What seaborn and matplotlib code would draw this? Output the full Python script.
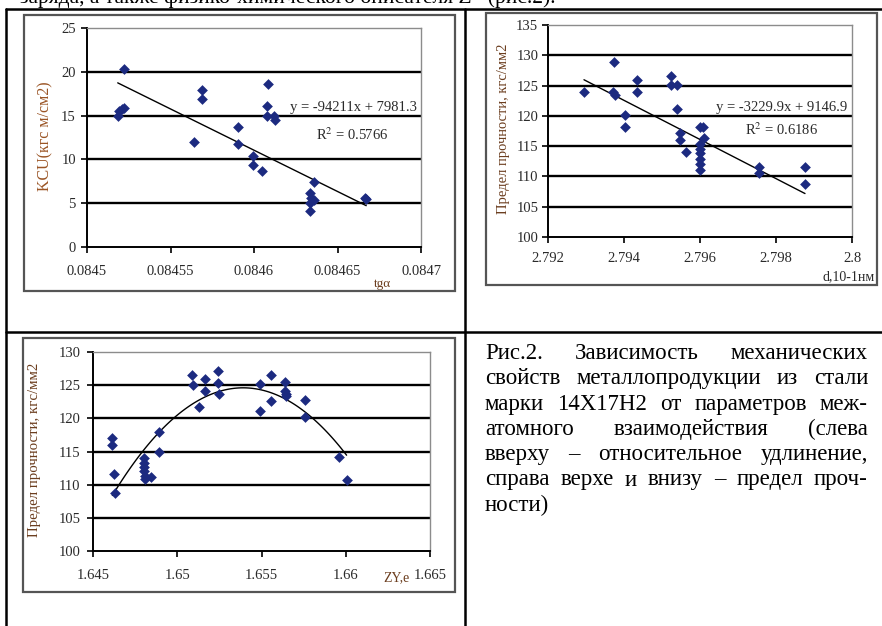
import numpy as np
import pandas as pd
import matplotlib
matplotlib.use("Agg")
import matplotlib.pyplot as plt
import seaborn as sns
from matplotlib.patches import Rectangle
from matplotlib.lines import Line2D

# ---------------- data ----------------
# Chart 1: KCU vs tg(alpha)
tga = [0.0845184, 0.0845190, 0.0845210, 0.0845224, 0.0845224,
       0.0845640, 0.0845690, 0.0845688,
       0.0845904, 0.0845902,
       0.0845994, 0.0845994, 0.0846046,
       0.0846086, 0.0846080, 0.0846080, 0.0846122, 0.0846124,
       0.0846357, 0.0846337, 0.0846341, 0.0846357, 0.0846337, 0.0846337,
       0.0846663, 0.0846672]
kcu = [15.0, 15.5, 15.75, 15.9, 20.36,
       11.95, 17.9, 16.9,
       13.66, 11.76,
       10.43, 9.4, 8.7,
       18.57, 16.13, 14.9, 15.0, 14.46,
       7.38, 6.16, 5.6, 5.4, 5.0, 4.15,
       5.55, 5.5]
fit1_slope, fit1_icpt = -94211.0, 7981.3
fit1_eq = "y = -94211x + 7981.3"
fit1_r2 = "R$^{2}$ = 0.5766"

# Chart 2: strength vs d
d_nm = [2.792947, 2.793737, 2.793720, 2.793760,
        2.794026, 2.794026, 2.794342, 2.794342,
        2.795237, 2.795237, 2.795404, 2.795404,
        2.795474, 2.795474, 2.795632,
        2.796009, 2.796070,
        2.796009, 2.796009, 2.796009, 2.796009, 2.796009, 2.796009,
        2.796105,
        2.797544, 2.797544, 2.798763, 2.798763]
sigma2 = [123.87, 128.94, 123.98, 123.5,
          120.1, 118.1, 125.9, 124.0,
          126.6, 125.1, 125.1, 121.06,
          117.1, 116.0, 114.06,
          118.2, 118.2,
          115.4, 114.6, 113.8, 112.95, 112.1, 111.1,
          116.3,
          111.6, 110.6, 111.6, 108.7]
fit2_slope, fit2_icpt = -3229.9, 9146.9
fit2_eq = "y = -3229.9x + 9146.9"
fit2_r2 = "R$^{2}$ = 0.6186"

# Chart 3: strength vs ZY
zy = [1.64615, 1.64615, 1.64625, 1.64629,
      1.64803, 1.64803, 1.64803, 1.64803, 1.64809, 1.64811,
      1.64847, 1.64892, 1.64892,
      1.65090, 1.65094, 1.65130, 1.65167, 1.65167,
      1.65241, 1.65243, 1.65247,
      1.65492, 1.65492, 1.65557, 1.65557,
      1.65640, 1.65640, 1.65644, 1.65644,
      1.65757, 1.65757, 1.65960, 1.66005]
sigma3 = [116.96, 115.96, 111.54, 108.78,
          114.05, 113.2, 112.7, 112.0, 111.3, 110.9,
          111.2, 118.0, 114.95,
          126.5, 125.1, 121.7, 126.0, 124.1,
          127.2, 125.3, 123.7,
          125.2, 121.1, 126.6, 122.6,
          125.5, 124.1, 123.7, 123.4,
          122.7, 120.2, 114.2, 110.7]
fit3_peak_x, fit3_peak_y, fit3_curv = 1.65391, 124.6, 269460.0

caption_lines = [
    "Рис.2. Зависимость механических",
    "свойств металлопродукции из стали",
    "марки 14Х17Н2 от параметров меж-",
    "атомного взаимодействия (слева",
    "вверху – относительное удлинение,",
    "справа верхе и внизу – предел проч-",
    "ности)",
]
top_text = "заряда, а также физико-химического описателя Z* (рис.2)."

# ---------------- style ----------------
W, H = 882, 626
sns.set_theme(style="white")
SERIF = ["Liberation Serif", "DejaVu Serif"]
plt.rcParams["font.family"] = SERIF
plt.rcParams["mathtext.fontset"] = "stix"

fig = plt.figure(figsize=(W / 100, H / 100), dpi=100)
fig.patch.set_facecolor("white")

MARK = "#1c2a80"
TICKC = "#2a2a2a"
LBL1 = "#9a5424"
LBL2 = "#6b3d1e"
FS_TICK = 10.5


def fx(x):
    return x / W


def fy(y):
    return 1 - y / H


def add_axes_px(x0, y0, x1, y1):
    return fig.add_axes([fx(x0), fy(y1), (x1 - x0) / W, (y1 - y0) / H])


def frame_px(x0, y0, x1, y1, lw=1.6, color="#555555"):
    fig.add_artist(Rectangle((fx(x0), fy(y1)), (x1 - x0) / W, (y1 - y0) / H,
                             transform=fig.transFigure, fill=False,
                             edgecolor=color, linewidth=lw))


def line_px(x0, y0, x1, y1, lw=1.8, color="black"):
    fig.add_artist(Line2D([fx(x0), fx(x1)], [fy(y0), fy(y1)],
                          transform=fig.transFigure, color=color, linewidth=lw))


def style_axes(ax, xticks, xlabels, yticks, xpad, ypad):
    ax.set_facecolor("white")
    ax.set_xlim(xticks[0], xticks[-1])
    ax.set_ylim(yticks[0], yticks[-1])
    ax.set_xticks(xticks)
    ax.set_xticklabels(xlabels)
    ax.set_yticks(yticks)
    ax.set_yticklabels([str(v) for v in yticks])
    ax.tick_params(axis="both", direction="out", length=4, width=1.2,
                   color="black", labelsize=FS_TICK, labelcolor=TICKC)
    ax.tick_params(axis="x", pad=xpad, bottom=True)
    ax.tick_params(axis="y", pad=ypad, left=True)
    for s in ["left", "bottom"]:
        ax.spines[s].set_color("black")
        ax.spines[s].set_linewidth(1.4)
    for s in ["top", "right"]:
        ax.spines[s].set_color("#8c8c8c")
        ax.spines[s].set_linewidth(1.0)
    ax.yaxis.grid(True, color="black", linewidth=1.7)
    ax.xaxis.grid(False)
    gl = ax.get_ygridlines()
    gl[0].set_visible(False)
    gl[-1].set_visible(False)
    ax.set_xlabel("")
    ax.set_ylabel("")


# ---------------- table + top text ----------------
fig.text(fx(20), fy(3.5), top_text, fontsize=15.5, ha="left", va="baseline",
         color="black")
line_px(6, 9, 882, 9)
line_px(6, 9, 6, 626)
line_px(465, 9, 465, 626)
line_px(6, 331.5, 882, 331.5)

# chart frames
frame_px(24, 15, 455, 291)
frame_px(486, 13, 877, 285)
frame_px(23, 338, 455, 592)

# ---------------- chart 1 ----------------
ax1 = add_axes_px(87, 28, 421, 247)
df1 = pd.DataFrame({"tga": tga, "kcu": kcu})
sns.scatterplot(data=df1, x="tga", y="kcu", ax=ax1, marker="D", s=30,
                color=MARK, edgecolor=MARK, linewidth=0, zorder=4)
xs1 = np.array([min(tga), max(tga)])
sns.lineplot(x=xs1, y=fit1_slope * xs1 + fit1_icpt, ax=ax1, color="black",
             linewidth=1.0, estimator=None, zorder=3)
style_axes(ax1, [0.0845, 0.08455, 0.0846, 0.08465, 0.0847],
           ["0.0845", "0.08455", "0.0846", "0.08465", "0.0847"],
           [0, 5, 10, 15, 20, 25], xpad=9, ypad=4)
fig.text(fx(353), fy(108), fit1_eq, fontsize=FS_TICK, ha="center", va="center", color=TICKC)
fig.text(fx(352), fy(135), fit1_r2, fontsize=FS_TICK, ha="center", va="center", color=TICKC)
fig.text(fx(45), fy(136), "KCU(кгс м/см2)", fontsize=11.5, rotation=90,
         ha="center", va="center", color=LBL1)
fig.text(fx(382), fy(284), "tgα", fontsize=9.5, ha="center", va="center", color=LBL2)

# ---------------- chart 2 ----------------
ax2 = add_axes_px(548, 25, 852, 237)
df2 = pd.DataFrame({"d": d_nm, "s": sigma2})
sns.scatterplot(data=df2, x="d", y="s", ax=ax2, marker="D", s=30,
                color=MARK, edgecolor=MARK, linewidth=0, zorder=4)
xs2 = np.array([min(d_nm), max(d_nm)])
sns.lineplot(x=xs2, y=fit2_slope * xs2 + fit2_icpt, ax=ax2, color="black",
             linewidth=1.0, estimator=None, zorder=3)
style_axes(ax2, [2.792, 2.794, 2.796, 2.798, 2.8],
           ["2.792", "2.794", "2.796", "2.798", "2.8"],
           [100, 105, 110, 115, 120, 125, 130, 135], xpad=7, ypad=3)
fig.text(fx(782), fy(107), fit2_eq, fontsize=FS_TICK, ha="center", va="center", color=TICKC)
fig.text(fx(782), fy(130), fit2_r2, fontsize=FS_TICK, ha="center", va="center", color=TICKC)
fig.text(fx(503), fy(129), "Предел прочности, кгс/мм2", fontsize=10.5, rotation=90,
         ha="center", va="center", color=LBL2)
fig.text(fx(875), fy(277), "d,10-1нм", fontsize=10, ha="right", va="center", color=TICKC)

# ---------------- chart 3 ----------------
ax3 = add_axes_px(93, 352, 430, 551)
df3 = pd.DataFrame({"zy": zy, "s": sigma3})
sns.scatterplot(data=df3, x="zy", y="s", ax=ax3, marker="D", s=30,
                color=MARK, edgecolor=MARK, linewidth=0, zorder=4)
xs3 = np.linspace(min(zy), max(zy), 120)
sns.lineplot(x=xs3, y=fit3_peak_y - fit3_curv * (xs3 - fit3_peak_x) ** 2, ax=ax3,
             color="black", linewidth=1.0, estimator=None, zorder=3)
style_axes(ax3, [1.645, 1.65, 1.655, 1.66, 1.665],
           ["1.645", "1.65", "1.655", "1.66", "1.665"],
           [100, 105, 110, 115, 120, 125, 130], xpad=9, ypad=5)
fig.text(fx(35), fy(450), "Предел прочности, кгс/мм2", fontsize=10.7, rotation=90,
         ha="center", va="center", color=LBL2)
fig.text(fx(396), fy(578), "ZY,e", fontsize=10, ha="center", va="center", color=LBL2)

# ---------------- caption (justified) ----------------
FS_CAP = 16.5
renderer = fig.canvas.get_renderer()
cx0, cx1 = 485, 868
base0, pitch = 359, 25.3
for i, line in enumerate(caption_lines):
    words = line.split(" ")
    texts = [fig.text(0, 0, w, fontsize=FS_CAP, color="black", va="baseline", ha="left")
             for w in words]
    widths = [t.get_window_extent(renderer).width for t in texts]
    last = i == len(caption_lines) - 1
    if not last and len(words) > 1:
        gap = (cx1 - cx0 - sum(widths)) / (len(words) - 1)
    else:
        gap = FS_CAP * 100 / 72 * 0.25
    x = cx0
    yb = base0 + i * pitch
    for t, w in zip(texts, widths):
        t.set_position((fx(x), fy(yb)))
        x += w + gap

fig.savefig("out.png", dpi=100, facecolor="white")
